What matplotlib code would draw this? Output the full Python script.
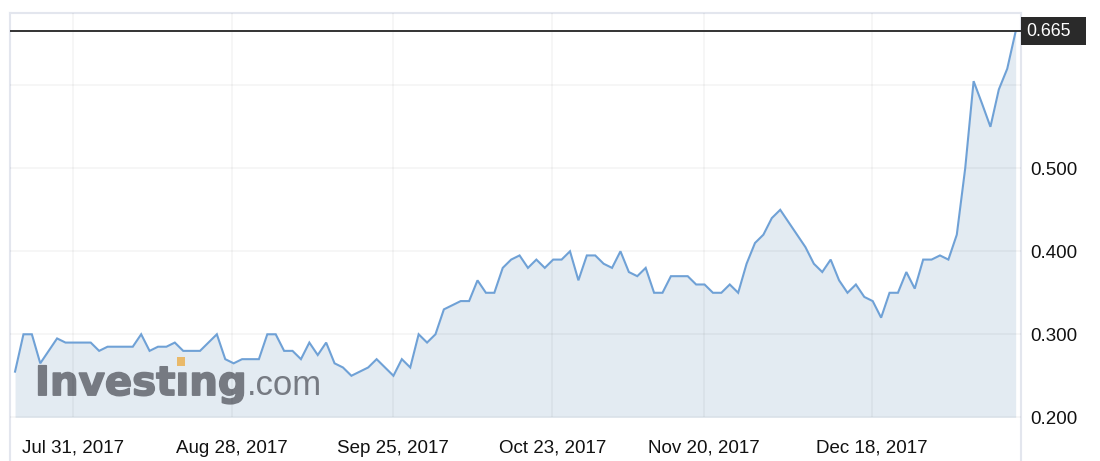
import numpy as np
import matplotlib.pyplot as plt
import matplotlib.transforms as mtransforms
import matplotlib.patheffects as pe
from matplotlib.patches import Rectangle

# daily closes, Jul 2017 - Jan 2018
prices = [
    0.255, 0.300, 0.300, 0.265, 0.280, 0.295, 0.290, 0.290, 0.290, 0.290,
    0.280, 0.285, 0.285, 0.285, 0.285, 0.300, 0.280, 0.285, 0.285, 0.290,
    0.280, 0.280, 0.280, 0.290, 0.300, 0.270, 0.265, 0.270, 0.270, 0.270,
    0.300, 0.300, 0.280, 0.280, 0.270, 0.290, 0.275, 0.290, 0.265, 0.260,
    0.250, 0.255, 0.260, 0.270, 0.260, 0.250, 0.270, 0.260, 0.300, 0.290,
    0.300, 0.330, 0.335, 0.340, 0.340, 0.365, 0.350, 0.350, 0.380, 0.390,
    0.395, 0.380, 0.390, 0.380, 0.390, 0.390, 0.400, 0.365, 0.395, 0.395,
    0.385, 0.380, 0.400, 0.375, 0.370, 0.380, 0.350, 0.350, 0.370, 0.370,
    0.370, 0.360, 0.360, 0.350, 0.350, 0.360, 0.350, 0.385, 0.410, 0.420,
    0.440, 0.450, 0.435, 0.420, 0.405, 0.385, 0.375, 0.390, 0.365, 0.350,
    0.360, 0.345, 0.340, 0.320, 0.350, 0.350, 0.375, 0.355, 0.390, 0.390,
    0.395, 0.390, 0.420, 0.500, 0.605, 0.578, 0.550, 0.595, 0.620, 0.665,
]
date_labels = ['Jul 31, 2017', 'Aug 28, 2017', 'Sep 25, 2017',
               'Oct 23, 2017', 'Nov 20, 2017', 'Dec 18, 2017']
date_pos = [6.85, 25.8, 45.0, 63.9, 81.9, 101.9]
y_ticks = [0.2, 0.3, 0.4, 0.5]
grid_levels = [0.2, 0.3, 0.4, 0.5, 0.6]
last_price = prices[-1]

plt.rcParams['font.family'] = ['Liberation Sans', 'DejaVu Sans']

fig = plt.figure(figsize=(11, 4.61), dpi=100)
ax = fig.add_axes([10 / 1100, 0, 1010.7 / 1100, 448.3 / 461])
x = np.arange(len(prices))
xmin, xmax = -0.6, 119.6
ymin, ymax = 0.1473, 0.6875
ax.set_xlim(xmin, xmax)
ax.set_ylim(ymin, ymax)

ax.fill_between(x, prices, 0.2, color='#e3ebf2', lw=0, zorder=1)
ax.plot(x, prices, color='#6fa1d6', lw=1.5, zorder=4, solid_joinstyle='miter')

# grid
ax.hlines(grid_levels, xmin, xmax, color='k', alpha=0.045, lw=1.2, zorder=3)
ax.vlines(date_pos, 0.2, ymax, color='k', alpha=0.045, lw=1.2, zorder=3)

# last price line + tag
ax.axhline(last_price, color='#333333', lw=1.4, zorder=5)
trans = mtransforms.blended_transform_factory(ax.transAxes, ax.transData)
ax.add_patch(Rectangle((1.0, last_price - 0.0169), 65 / 1010.7, 0.0338,
                       transform=trans, fc='#2a2a2a', ec='none', clip_on=False, zorder=6))
ax.annotate(f'{last_price:.3f}', xy=(1, last_price), xycoords=trans,
            xytext=(4.3, 0), textcoords='offset points', ha='left', va='center',
            color='white', fontsize=12.8, annotation_clip=False, zorder=7)

# date labels inside the frame
for pos, lab in zip(date_pos, date_labels):
    ax.text(pos, 0.1573, lab, ha='center', va='baseline', fontsize=13.5, color='#111111')

# watermark
stroke = [pe.withStroke(linewidth=1.2, foreground='#767a82')]
ax.text(0.0247, 0.147, 'Invest\u0131ng', transform=ax.transAxes, fontsize=29,
        fontweight='bold', family='DejaVu Sans', color='#767a82', va='baseline',
        zorder=2, path_effects=stroke)
ax.text(0.2345, 0.147, '.com', transform=ax.transAxes, fontsize=25,
        family='Liberation Sans', color='#767a82', va='baseline', zorder=2)
ax.add_patch(Rectangle((0.165, 0.2126), 0.0082, 0.0201, transform=ax.transAxes,
                       color='#e9b96a', lw=0, zorder=2.1))

ax.yaxis.tick_right()
ax.set_yticks(y_ticks, [f'{v:.3f}' for v in y_ticks])
ax.set_xticks([])
ax.tick_params(axis='y', length=0, pad=6.7, labelsize=13.5, labelcolor='#111111')
for side in ['left', 'top', 'right']:
    ax.spines[side].set_color('#e3e6ee')
    ax.spines[side].set_linewidth(1.5)
ax.spines['bottom'].set_visible(False)

fig.savefig('out.png', dpi=100)
